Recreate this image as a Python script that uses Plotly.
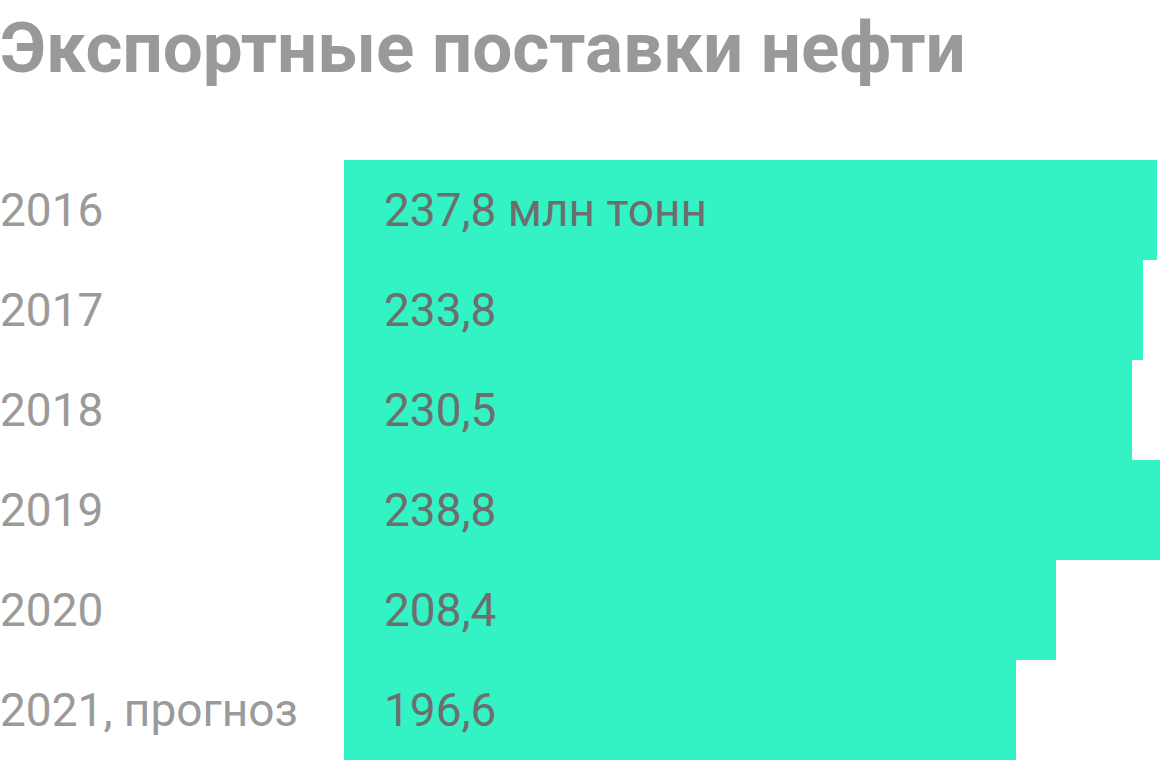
## Export oil shipments bar chart
import plotly.graph_objects as go

years = ['2016', '2017', '2018', '2019', '2020', '2021, прогноз']
exports = [237.8, 233.8, 230.5, 238.8, 208.4, 196.6]
valueLabels = ['237,8 млн тонн', '233,8', '230,5', '238,8', '208,4', '196,6']

FONT = 'Roboto'

fig = go.Figure(go.Bar(
    x=exports,
    y=years,
    orientation='h',
    marker=dict(color='#33F3C5', line=dict(width=0)),
    hoverinfo='skip'))

## year names on the left, values inside the bars
## (category index for y, a numeric-looking string would be read as a number)
for i, (year, label) in enumerate(zip(years, valueLabels)):
    fig.add_annotation(x=-344 / 816, xref='paper', y=i, yref='y', xshift=-2,
                       text=year, showarrow=False, xanchor='left',
                       font=dict(family=FONT, size=46, color='#9a9a9a'))
    fig.add_annotation(x=0, xref='x', y=i, yref='y', xshift=38,
                       text=label, showarrow=False, xanchor='left',
                       font=dict(family=FONT, size=46, color='#6e6e6e'))

fig.add_annotation(x=-344 / 816, xref='paper', y=1, yref='paper',
                   xshift=-2, yshift=156,
                   text='<b>Экспортные поставки нефти</b>', showarrow=False,
                   xanchor='left', yanchor='top',
                   font=dict(family=FONT, size=71, color='#999999'))

fig.update_layout(
    width=1160, height=760,
    margin=dict(l=344, r=0, t=160, b=0),
    paper_bgcolor='white', plot_bgcolor='white',
    bargap=0, showlegend=False,
    xaxis=dict(range=[0, 238.8], visible=False, fixedrange=True),
    yaxis=dict(type='category', range=[len(years) - 0.5, -0.5],
               visible=False, fixedrange=True))

## drop the page margin so the figure sits in the corner
fig.write_html('out.html', config={'displayModeBar': False},
               post_script="document.body.style.margin='0';")
